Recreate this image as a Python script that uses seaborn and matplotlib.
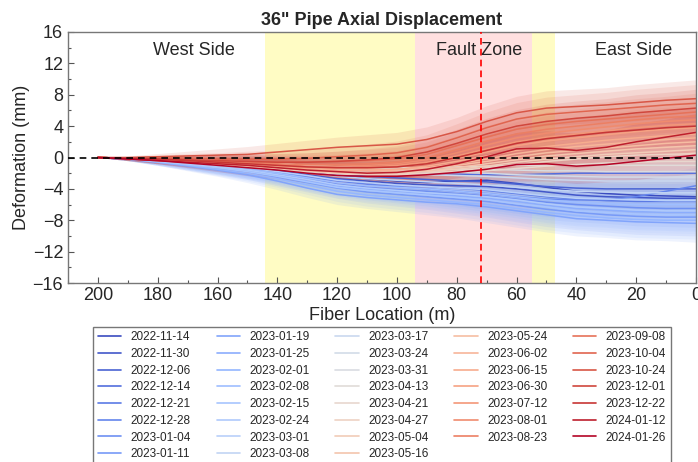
import numpy as np
import pandas as pd
import matplotlib
matplotlib.use("Agg")
import matplotlib.pyplot as plt
from matplotlib.lines import Line2D
from matplotlib.ticker import MultipleLocator
import seaborn as sns

# ---------------- data ----------------
dates = ["2022-11-14", "2022-11-30", "2022-12-06", "2022-12-14", "2022-12-21", "2022-12-28",
         "2023-01-04", "2023-01-11", "2023-01-19", "2023-01-25", "2023-02-01", "2023-02-08",
         "2023-02-15", "2023-02-24", "2023-03-01", "2023-03-08", "2023-03-17", "2023-03-24",
         "2023-03-31", "2023-04-13", "2023-04-21", "2023-04-27", "2023-05-04", "2023-05-16",
         "2023-05-24", "2023-06-02", "2023-06-15", "2023-06-30", "2023-07-12", "2023-08-01",
         "2023-08-23", "2023-09-08", "2023-10-04", "2023-10-24", "2023-12-01", "2023-12-22",
         "2024-01-12", "2024-01-26"]

fiber_location = [200, 190, 180, 170, 160, 150, 140, 130, 120, 110, 100,
                  90, 80, 70, 60, 50, 40, 30, 20, 10, 0]

# mean deformation (mm) per date, at each fiber location
s00 = [0, -0.1, -0.3, -0.5, -0.8, -1.1, -1.5, -1.9, -2.3, -2.7, -3.0, -3.2, -3.0, -2.9, -3.3, -3.8, -4.3, -4.6, -4.8, -4.9, -5.0]
s01 = [0, -0.1, -0.3, -0.6, -0.9, -1.2, -1.7, -2.2, -2.7, -3.0, -3.3, -3.5, -3.6, -3.7, -4.0, -4.4, -4.8, -5.0, -5.1, -5.2, -5.2]
s02 = [0, -0.1, -0.3, -0.5, -0.7, -1.0, -1.3, -1.7, -2.1, -2.4, -2.6, -2.8, -3.0, -3.1, -3.4, -3.7, -3.9, -4.0, -4.0, -4.0, -4.0]
s03 = [0, -0.1, -0.2, -0.4, -0.6, -0.8, -1.1, -1.4, -1.7, -1.9, -2.0, -2.0, -2.1, -2.2, -2.2, -2.1, -2.0, -2.0, -2.0, -2.0, -2.0]
s04 = [0, -0.1, -0.4, -0.6, -0.9, -1.3, -1.8, -2.3, -2.8, -3.2, -3.5, -3.7, -3.9, -4.2, -4.6, -5.0, -5.3, -5.5, -5.6, -5.6, -5.6]
s05 = [0, -0.1, -0.4, -0.7, -1.0, -1.4, -1.9, -2.5, -3.0, -3.4, -3.7, -4.0, -4.3, -4.6, -5.0, -5.3, -5.4, -5.4, -5.0, -4.3, -3.6]
s06 = [0, -0.2, -0.5, -0.8, -1.2, -1.6, -2.1, -2.7, -3.4, -3.8, -4.1, -4.3, -4.6, -4.9, -5.3, -5.7, -6.0, -6.2, -6.4, -6.5, -6.5]
s07 = [0, -0.2, -0.6, -1.0, -1.4, -1.8, -2.5, -3.2, -3.9, -4.4, -4.7, -5.0, -5.3, -5.6, -6.1, -6.6, -7.0, -7.3, -7.5, -7.6, -7.6]
s08 = [0, -0.2, -0.6, -1.1, -1.6, -2.2, -3.0, -3.9, -4.7, -5.1, -5.4, -5.7, -5.9, -6.3, -6.8, -7.3, -7.8, -8.0, -8.2, -8.3, -8.4]
s09 = [0, -0.2, -0.5, -0.9, -1.3, -1.7, -2.3, -3.0, -3.6, -4.0, -4.3, -4.6, -4.9, -5.2, -5.6, -6.1, -6.5, -6.7, -6.9, -7.0, -7.0]
s10 = [0, -0.2, -0.6, -1.0, -1.5, -2.0, -2.7, -3.5, -4.3, -4.8, -5.1, -5.4, -5.7, -6.0, -6.5, -7.0, -7.4, -7.7, -7.9, -8.0, -8.0]
s11 = [0, -0.1, -0.4, -0.8, -1.1, -1.5, -2.0, -2.6, -3.2, -3.6, -3.8, -4.0, -4.3, -4.6, -5.0, -5.4, -5.7, -5.9, -6.0, -6.0, -6.0]
s12 = [0, -0.2, -0.5, -0.9, -1.3, -1.8, -2.4, -3.1, -3.8, -4.2, -4.5, -4.8, -5.1, -5.4, -5.9, -6.3, -6.8, -7.0, -7.2, -7.3, -7.3]
s13 = [0, -0.1, -0.5, -0.8, -1.2, -1.6, -2.2, -2.8, -3.5, -3.9, -4.2, -4.5, -4.7, -5.0, -5.4, -5.9, -6.3, -6.5, -6.7, -6.8, -6.8]
s14 = [0, -0.1, -0.4, -0.7, -1.0, -1.3, -1.8, -2.3, -2.9, -3.2, -3.5, -3.7, -3.9, -4.1, -4.5, -4.9, -5.2, -5.3, -5.4, -5.5, -5.5]
s15 = [0, -0.1, -0.3, -0.6, -0.8, -1.1, -1.5, -1.9, -2.4, -2.7, -2.9, -3.1, -3.3, -3.5, -3.8, -4.1, -4.3, -4.4, -4.5, -4.5, -4.5]
s16 = [0, -0.1, -0.2, -0.4, -0.6, -0.8, -1.1, -1.4, -1.7, -1.9, -2.0, -2.2, -2.3, -2.4, -2.6, -2.8, -2.9, -3.0, -3.0, -3.0, -3.0]
s17 = [0, -0.1, -0.2, -0.3, -0.5, -0.7, -0.9, -1.2, -1.5, -1.6, -1.7, -1.8, -1.9, -2.0, -2.2, -2.3, -2.4, -2.5, -2.5, -2.5, -2.5]
s18 = [0, -0.1, -0.2, -0.3, -0.4, -0.6, -0.8, -1.0, -1.2, -1.4, -1.5, -1.5, -1.5, -1.5, -1.6, -1.7, -1.7, -1.8, -1.8, -1.8, -1.8]
s19 = [0, -0.1, -0.2, -0.3, -0.4, -0.6, -0.8, -1.0, -1.2, -1.3, -1.3, -1.3, -1.2, -1.1, -1.0, -1.0, -1.0, -1.0, -1.0, -1.0, -1.0]
s20 = [0, -0.1, -0.3, -0.5, -0.8, -1.1, -1.4, -1.7, -1.9, -2.1, -2.1, -2.0, -1.9, -1.7, -1.4, -1.1, -0.9, -0.7, -0.6, -0.5, -0.5]
s21 = [0, -0.1, -0.4, -0.6, -0.9, -1.2, -1.5, -1.8, -2.1, -2.2, -2.2, -2.0, -1.7, -1.3, -0.9, -0.5, -0.2, 0.1, 0.3, 0.4, 0.5]
s22 = [0, -0.1, -0.3, -0.6, -0.8, -1.1, -1.4, -1.7, -2.0, -2.1, -2.0, -1.8, -1.5, -1.1, -0.6, -0.2, 0.1, 0.4, 0.6, 0.8, 1.0]
s23 = [0, -0.1, -0.3, -0.5, -0.8, -1.1, -1.4, -1.7, -1.9, -2.0, -1.9, -1.7, -1.3, -0.8, -0.3, 0.2, 0.5, 0.8, 1.1, 1.3, 1.5]
s24 = [0, -0.1, -0.3, -0.5, -0.8, -1.0, -1.3, -1.6, -1.8, -1.9, -1.8, -1.5, -1.0, -0.5, 0.1, 0.6, 0.9, 1.2, 1.5, 1.8, 2.0]
s25 = [0, -0.1, -0.3, -0.5, -0.7, -1.0, -1.3, -1.5, -1.7, -1.7, -1.6, -1.3, -0.8, -0.2, 0.5, 1.0, 1.4, 1.7, 2.0, 2.3, 2.5]
s26 = [0, -0.1, -0.3, -0.5, -0.7, -0.9, -1.2, -1.4, -1.6, -1.6, -1.5, -1.1, -0.5, 0.2, 0.9, 1.4, 1.8, 2.2, 2.5, 2.8, 3.0]
s27 = [0, -0.1, -0.3, -0.5, -0.7, -0.9, -1.1, -1.3, -1.4, -1.4, -1.2, -0.8, -0.1, 0.7, 1.5, 2.1, 2.5, 2.9, 3.3, 3.6, 3.8]
s28 = [0, -0.1, -0.3, -0.4, -0.6, -0.8, -1.0, -1.2, -1.3, -1.2, -1.0, -0.6, 0.2, 1.1, 2.0, 2.6, 3.0, 3.4, 3.8, 4.1, 4.3]
s29 = [0, -0.1, -0.2, -0.4, -0.5, -0.7, -0.9, -1.1, -1.1, -1.0, -0.8, -0.3, 0.6, 1.6, 2.5, 3.1, 3.5, 3.9, 4.3, 4.6, 4.8]
s30 = [0, -0.1, -0.2, -0.3, -0.5, -0.6, -0.8, -0.9, -0.9, -0.8, -0.6, 0.0, 1.0, 2.1, 3.0, 3.6, 4.0, 4.4, 4.8, 5.1, 5.3]
s31 = [0, -0.1, -0.2, -0.3, -0.4, -0.5, -0.6, -0.6, -0.5, -0.4, -0.2, 0.4, 1.5, 2.6, 3.6, 4.2, 4.6, 4.9, 5.2, 5.5, 5.8]
s32 = [0, -0.1, -0.1, -0.1, -0.2, -0.2, -0.2, -0.1, 0.1, 0.3, 0.6, 1.3, 2.5, 3.8, 4.9, 5.5, 5.8, 6.1, 6.4, 6.7, 6.9]
s33 = [0, 0.0, 0.1, 0.2, 0.3, 0.4, 0.7, 1.0, 1.3, 1.5, 1.7, 2.3, 3.3, 4.6, 5.7, 6.3, 6.5, 6.7, 7.0, 7.3, 7.5]
s34 = [0, -0.1, -0.2, -0.3, -0.4, -0.5, -0.6, -0.6, -0.5, -0.3, 0.0, 0.7, 1.8, 3.0, 4.0, 4.6, 5.0, 5.3, 5.7, 6.0, 6.3]
s35 = [0, -0.1, -0.2, -0.4, -0.6, -0.8, -1.0, -1.2, -1.3, -1.3, -1.2, -0.8, 0.0, 0.9, 1.8, 2.4, 2.8, 3.2, 3.5, 3.8, 4.0]
s36 = [0, -0.2, -0.4, -0.6, -0.8, -1.0, -1.3, -1.6, -1.8, -2.0, -1.9, -1.5, -0.8, 0.1, 1.1, 1.2, 0.9, 1.3, 2.0, 2.6, 3.2]
s37 = [0, -0.2, -0.4, -0.7, -1.0, -1.3, -1.6, -2.0, -2.3, -2.4, -2.4, -2.2, -1.9, -1.5, -0.9, -0.8, -1.1, -0.9, -0.5, -0.1, 0.3]

series = [s00, s01, s02, s03, s04, s05, s06, s07, s08, s09, s10, s11, s12, s13, s14, s15, s16, s17, s18,
          s19, s20, s21, s22, s23, s24, s25, s26, s27, s28, s29, s30, s31, s32, s33, s34, s35, s36, s37]

# half-width of the shaded uncertainty band (mm) along the fiber
band_halfwidth = [0, 0.2, 0.4, 0.6, 0.8, 1.0, 1.1, 1.2, 1.3, 1.4, 1.5,
                  1.6, 1.8, 2.0, 2.1, 2.2, 2.2, 2.2, 2.3, 2.3, 2.4]

x_ticks = [200, 180, 160, 140, 120, 100, 80, 60, 40, 20, 0]
y_ticks = [-16, -12, -8, -4, 0, 4, 8, 12, 16]

# ---------------- style ----------------
sns.set_style("ticks")
plt.rcParams["font.family"] = ["Liberation Sans", "DejaVu Sans"]
plt.rcParams["axes.unicode_minus"] = True

rows = []
for d, vals in zip(dates, series):
    for x, v in zip(fiber_location, vals):
        rows.append({"Fiber Location (m)": x, "Deformation (mm)": v, "Date": d})
df = pd.DataFrame(rows)

cmap = plt.get_cmap("coolwarm")
n = len(dates)
palette = {d: cmap(i / (n - 1)) for i, d in enumerate(dates)}

fig = plt.figure(figsize=(6.98, 4.62), dpi=100)
ax = fig.add_axes([68 / 698, 1 - 283 / 462, (696 - 68) / 698, (283 - 32) / 462])

# background zones
ax.axvspan(94, 144, color="#fffcc4", lw=0, zorder=0)
ax.axvspan(55, 94, color="#ffe0e0", lw=0, zorder=0)
ax.axvspan(47, 55, color="#fffcc4", lw=0, zorder=0)

hw = np.array(band_halfwidth)
for d, vals in zip(dates, series):
    v = np.array(vals)
    ax.fill_between(fiber_location, v - hw, v + hw, color=palette[d], alpha=0.13, lw=0, zorder=1)
    sub = df[df["Date"] == d]
    sns.lineplot(data=sub, x="Fiber Location (m)", y="Deformation (mm)", color=palette[d],
                 lw=1.1, ax=ax, legend=False, zorder=2)

ax.axhline(0, color="black", ls=(0, (4, 3)), lw=1.2, zorder=3)
ax.axvline(72, color="red", ls=(0, (4, 2.5)), lw=1.2, zorder=3)

ax.set_xlim(210, 0)
ax.set_ylim(-16, 16)
ax.set_xticks(x_ticks)
ax.set_yticks(y_ticks)
ax.xaxis.set_minor_locator(MultipleLocator(10))
ax.yaxis.set_minor_locator(MultipleLocator(2))
ax.tick_params(which="both", direction="in", labelsize=13, color="#555555",
               bottom=True, left=True, top=False, right=False)
ax.tick_params(which="major", length=4, width=0.8)
ax.tick_params(which="minor", length=2.5, width=0.8)
ax.tick_params(axis="x", pad=3)
for sp in ax.spines.values():
    sp.set_visible(True)
    sp.set_color("#777777")
    sp.set_linewidth(1.0)

ax.set_xlabel("Fiber Location (m)", fontsize=13, labelpad=2)
ax.set_ylabel("Deformation (mm)", fontsize=13, labelpad=2)
ax.set_title('36" Pipe Axial Displacement', fontsize=13, fontweight="bold", pad=5)

ax.text(168, 13.7, "West Side", ha="center", va="center", fontsize=13)
ax.text(72.4, 13.7, "Fault Zone", ha="center", va="center", fontsize=13)
ax.text(21, 13.7, "East Side", ha="center", va="center", fontsize=13)

handles = [Line2D([0], [0], color=palette[d], lw=1.2) for d in dates]
leg = ax.legend(handles, dates, loc="upper center", bbox_to_anchor=(0.5, -0.15), ncol=5,
                fontsize=8.5, frameon=True, fancybox=False, labelspacing=0.4,
                columnspacing=2.15, handlelength=2.0, borderpad=0.4)
leg.get_frame().set_edgecolor("#555555")
leg.get_frame().set_linewidth(1.0)

fig.savefig("out.png", dpi=100)
